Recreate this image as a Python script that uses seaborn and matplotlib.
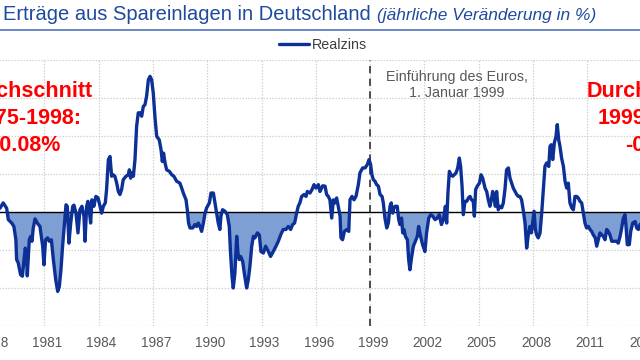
import numpy as np
import pandas as pd
import matplotlib
matplotlib.use("Agg")
import matplotlib.pyplot as plt
import matplotlib.transforms as mtransforms
import seaborn as sns
from matplotlib.lines import Line2D

# ---------------------------------------------
# Daten: Realzins auf Spareinlagen
# ---------------------------------------------
jahre = [
    1978.55, 1978.73, 1978.92, 1979.01, 1979.20, 1979.32, 1979.43, 1979.47, 1979.56, 1979.69,
    1979.79, 1979.88, 1979.95, 1980.02, 1980.06, 1980.17, 1980.25, 1980.32, 1980.39, 1980.49,
    1980.61, 1980.76, 1980.91, 1980.98, 1981.07, 1981.18, 1981.28, 1981.39, 1981.50, 1981.63,
    1981.74, 1981.83, 1981.92, 1982.01, 1982.11, 1982.20, 1982.27, 1982.36, 1982.46, 1982.57,
    1982.64, 1982.75, 1982.86, 1982.97, 1983.08, 1983.19, 1983.25, 1983.34, 1983.41, 1983.49,
    1983.56, 1983.63, 1983.74, 1983.85, 1983.97, 1984.08, 1984.17, 1984.26, 1984.37, 1984.44,
    1984.54, 1984.63, 1984.72, 1984.81, 1984.90, 1985.00, 1985.09, 1985.18, 1985.27, 1985.36,
    1985.51, 1985.64, 1985.70, 1985.77, 1985.84, 1985.92, 1986.01, 1986.10, 1986.19, 1986.29,
    1986.38, 1986.47, 1986.56, 1986.65, 1986.75, 1986.84, 1986.93, 1987.02, 1987.11, 1987.21,
    1987.35, 1987.45, 1987.52, 1987.59, 1987.67, 1987.76, 1987.91, 1988.04, 1988.16, 1988.31,
    1988.49, 1988.59, 1988.68, 1988.83, 1988.90, 1988.97, 1989.05, 1989.20, 1989.32, 1989.42,
    1989.51, 1989.60, 1989.69, 1989.79, 1989.88, 1989.97, 1990.12, 1990.21, 1990.34, 1990.43,
    1990.52, 1990.61, 1990.70, 1990.76, 1990.85, 1990.98, 1991.11, 1991.22, 1991.29, 1991.37,
    1991.44, 1991.53, 1991.63, 1991.70, 1991.77, 1991.85, 1991.96, 1992.05, 1992.18, 1992.27,
    1992.36, 1992.46, 1992.55, 1992.64, 1992.77, 1992.88, 1992.97, 1993.10, 1993.23, 1993.38,
    1993.50, 1993.65, 1993.80, 1993.93, 1994.06, 1994.20, 1994.35, 1994.48, 1994.61, 1994.72,
    1994.83, 1994.94, 1995.03, 1995.12, 1995.22, 1995.35, 1995.46, 1995.53, 1995.68, 1995.79,
    1995.90, 1996.01, 1996.14, 1996.23, 1996.38, 1996.51, 1996.60, 1996.69, 1996.78, 1996.88,
    1996.97, 1997.06, 1997.15, 1997.24, 1997.34, 1997.39, 1997.48, 1997.58, 1997.71, 1997.82,
    1997.89, 1998.00, 1998.11, 1998.22, 1998.35, 1998.44, 1998.59, 1998.72, 1998.85, 1998.94,
    1999.03, 1999.10, 1999.18, 1999.27, 1999.36, 1999.46, 1999.55, 1999.66, 1999.73, 1999.82,
    1999.92, 2000.01, 2000.10, 2000.17, 2000.25, 2000.32, 2000.39, 2000.50, 2000.58, 2000.65,
    2000.74, 2000.80, 2000.87, 2000.95, 2001.06, 2001.13, 2001.20, 2001.30, 2001.39, 2001.50,
    2001.61, 2001.68, 2001.79, 2001.90, 2002.03, 2002.12, 2002.24, 2002.35, 2002.46, 2002.59,
    2002.71, 2002.82, 2002.94, 2003.05, 2003.16, 2003.23, 2003.30, 2003.38, 2003.47, 2003.56,
    2003.65, 2003.75, 2003.84, 2003.93, 2004.00, 2004.08, 2004.15, 2004.24, 2004.34, 2004.43,
    2004.52, 2004.61, 2004.70, 2004.76, 2004.83, 2004.92, 2005.04, 2005.13, 2005.22, 2005.35,
    2005.44, 2005.53, 2005.62, 2005.70, 2005.77, 2005.84, 2005.92, 2005.99, 2006.08, 2006.18,
    2006.27, 2006.36, 2006.45, 2006.54, 2006.64, 2006.73, 2006.82, 2006.91, 2007.01, 2007.10,
    2007.19, 2007.28, 2007.37, 2007.47, 2007.56, 2007.65, 2007.74, 2007.83, 2007.91, 2007.98,
    2008.06, 2008.13, 2008.20, 2008.29, 2008.39, 2008.48, 2008.57, 2008.66, 2008.75, 2008.87,
    2008.94, 2009.01, 2009.09, 2009.18, 2009.27, 2009.34, 2009.42, 2009.49, 2009.58, 2009.68,
    2009.77, 2009.86, 2009.95, 2010.04, 2010.14, 2010.23, 2010.32, 2010.41, 2010.50, 2010.60,
    2010.69, 2010.78, 2010.87, 2010.96, 2011.06, 2011.15, 2011.24, 2011.33, 2011.44, 2011.52,
    2011.61, 2011.70, 2011.79, 2011.89, 2011.98, 2012.07, 2012.16, 2012.25, 2012.35, 2012.44,
    2012.62, 2012.71, 2012.81, 2012.90, 2012.99, 2013.08, 2013.14, 2013.21, 2013.32, 2013.40,
    2013.51, 2013.64, 2013.73, 2013.82, 2013.91, 2014.00,
]

realzins = [
    0.10, 0.24, 0.10, -0.20, -0.29, -0.38, -0.73, -1.25, -1.34, -1.65,
    -1.69, -1.25, -0.95, -1.25, -1.68, -0.73, -0.64, -0.77, -0.42, -0.18,
    -0.29, -0.38, -0.90, -1.39, -0.73, -0.68, -0.77, -0.73, -1.25, -1.78,
    -2.09, -1.96, -1.52, -0.90, -0.33, 0.19, 0.15, -0.82, -0.29, 0.15,
    0.18, -0.03, -0.55, 0.06, 0.15, -0.11, -0.77, 0.15, 0.28, 0.02,
    -0.29, 0.32, 0.15, 0.41, 0.37, 0.15, -0.03, 0.15, 0.24, 0.59,
    1.38, 1.46, 0.94, 0.98, 0.94, 0.76, 0.54, 0.46, 0.59, 0.85,
    0.94, 0.98, 1.11, 0.89, 1.03, 0.94, 1.38, 2.25, 2.61, 2.61,
    2.52, 2.78, 2.82, 3.04, 3.48, 3.57, 3.48, 3.13, 2.52, 1.99,
    1.90, 1.64, 1.33, 1.55, 1.29, 1.11, 1.07, 0.98, 0.94, 0.81,
    0.76, 0.63, 0.50, 0.32, 0.06, -0.29, -0.42, -0.42, -0.33, -0.38,
    -0.29, -0.38, -0.51, -0.29, -0.03, 0.11, 0.24, 0.50, 0.50, 0.24,
    -0.03, -0.29, -0.46, -0.11, 0.06, 0.02, -0.07, -0.38, -1.08, -1.69,
    -2.00, -1.61, -0.64, -1.08, -1.25, -1.17, -1.30, -1.61, -2.00, -1.78,
    -1.43, -0.90, -0.64, -0.68, -0.55, -0.60, -1.04, -1.08, -0.90, -1.04,
    -1.17, -1.04, -0.90, -0.77, -0.60, -0.46, -0.46, -0.38, -0.46, -0.33,
    -0.29, -0.03, 0.15, 0.24, 0.41, 0.46, 0.41, 0.54, 0.50, 0.59,
    0.72, 0.63, 0.72, 0.54, 0.69, 0.68, 0.46, 0.41, 0.32, -0.16,
    0.32, 0.24, 0.37, 0.15, -0.11, -0.68, -0.73, -0.51, -0.46, -0.51,
    0.32, 0.41, 0.32, 0.41, 0.72, 1.03, 1.16, 1.16, 1.25, 1.38,
    1.25, 0.98, 0.85, 0.81, 0.72, 0.68, 0.46, 0.41, 0.24, -0.16,
    -0.42, -0.29, 0.15, 0.24, -0.03, 0.11, 0.15, 0.15, -0.20, -0.33,
    -0.16, -0.55, -0.46, -0.64, -0.73, -1.25, -1.52, -1.17, -0.90, -0.77,
    -0.64, -0.38, -0.64, -0.86, -1.04, -0.55, -0.16, -0.07, -0.11, -0.20,
    -0.16, -0.07, -0.33, -0.20, 0.15, -0.29, 0.50, 1.07, 0.98, 0.94,
    0.98, 1.03, 1.16, 1.42, 1.20, 0.68, -0.07, 0.28, 0.28, 0.37,
    0.41, 0.32, 0.28, -0.11, 0.59, 0.68, 0.76, 0.98, 0.89, 0.63,
    0.54, 0.32, 0.15, 0.32, 0.54, 0.41, 0.15, 0.54, 0.06, 0.15,
    0.11, 0.24, 0.59, 1.11, 1.16, 0.89, 0.76, 0.63, 0.54, 0.46,
    0.41, 0.41, 0.32, 0.02, -0.29, -0.95, -0.60, -0.38, -0.55, -0.29,
    0.02, -0.46, -0.60, -0.68, -0.55, -0.03, 0.59, 1.20, 1.29, 1.20,
    1.73, 1.77, 1.38, 1.82, 1.99, 2.30, 1.90, 1.73, 1.42, 1.20,
    0.81, 0.63, 0.76, 0.24, 0.11, 0.06, 0.41, 0.41, 0.37, 0.28,
    0.24, -0.03, -0.29, -0.42, -0.38, -0.46, -0.51, -0.60, -0.68, -0.90,
    -0.73, -0.55, -0.60, -0.64, -0.73, -0.46, -0.51, -0.60, -0.77, -0.77,
    -0.77, -0.82, -0.64, -0.42, -0.16, -0.07, -0.38, -0.86, -0.86, -0.51,
    -0.29, -0.25, -0.42, -0.46, -0.33, -0.30,
]

jahr_ticks = list(range(1978, 2015, 3))
y_gitter = list(range(-3, 5))

df = pd.DataFrame({"Jahr": jahre, "Realzins": realzins})

LINIE = "#0d3097"
FLAECHE = "#7e9fd4"
TITEL = "#1f4a9e"
GRAU = "#595959"
ROT = "#ff0000"

sns.set_style("white")
plt.rcParams["font.family"] = ["Liberation Sans", "DejaVu Sans"]

fig = plt.figure(figsize=(6.4, 3.6), dpi=100)
W, H = 640, 360

# Plotbereich: ragt links/rechts über das Bild hinaus (Ausschnitt)
px_l, px_r, px_t, px_b = -40, 680, 60, 326
ax = fig.add_axes([px_l / W, 1 - px_b / H, (px_r - px_l) / W, (px_b - px_t) / H])

px_per_year = 18.1
x0 = 1981 + (px_l - 44.3) / px_per_year
x1 = 1981 + (px_r - 44.3) / px_per_year
ax.set_xlim(x0, x1)
ax.set_ylim(-3, 4)

# negative Bereiche füllen
x = df["Jahr"].to_numpy()
y = df["Realzins"].to_numpy()
ax.fill_between(x, y, 0, where=y < 0, interpolate=True, color=FLAECHE, lw=0, zorder=1)

ax.axhline(0, color="black", lw=1.0, zorder=2)
ax.axvline(1999, color="#404040", lw=1.3, ls=(0, (4, 3)), zorder=2)

sns.lineplot(data=df, x="Jahr", y="Realzins", ax=ax, color=LINIE, lw=2.4,
             label="Realzins", zorder=3)

ax.set_xticks(jahr_ticks)
ax.set_xticklabels([str(j) for j in jahr_ticks], fontsize=9.8, color=GRAU)
ax.set_yticks(y_gitter)
ax.tick_params(axis="y", labelleft=False, length=0)
ax.tick_params(axis="x", length=0, pad=7.5)
# Beschriftungen leicht rechts der Gitterlinien wie im Original
shift = mtransforms.ScaledTranslation(3 / 100, 0, fig.dpi_scale_trans)
for lab in ax.get_xticklabels():
    lab.set_transform(lab.get_transform() + shift)
ax.grid(True, color="#d2d2d2", ls=(0, (1.2, 1.2)), lw=0.9, zorder=0)
ax.set_axisbelow(True)
ax.set_xlabel("")
ax.set_ylabel("")
for s in ax.spines.values():
    s.set_visible(False)

# Legende oben in der Mitte
handles, labels = ax.get_legend_handles_labels()
ax.get_legend().remove()
fig.legend(handles, labels, loc="center", bbox_to_anchor=(323 / W, 1 - 45 / H),
           frameon=False, fontsize=10.3, handlelength=2.1, handletextpad=0.2,
           labelcolor="#404040")

# Titel + Trennlinie
fig.text(3 / W, 1 - 20 / H, "Erträge aus Spareinlagen in Deutschland",
         fontsize=14.5, color=TITEL, ha="left", va="baseline")
fig.text(377 / W, 1 - 20 / H, "(jährliche Veränderung in %)",
         fontsize=12.5, color=TITEL, style="italic", ha="left", va="baseline")
fig.add_artist(Line2D([0, 1], [1 - 30 / H, 1 - 30 / H], color="#4f74bb", lw=1.2))

# Anmerkung Euro-Einführung
fig.text(457 / W, 1 - 80.5 / H, "Einführung des Euros,", fontsize=10.3,
         color=GRAU, ha="center", va="baseline")
fig.text(457 / W, 1 - 97 / H, "1. Januar 1999", fontsize=10.3,
         color=GRAU, ha="center", va="baseline")

# Durchschnittswerte (rot), im Original am Bildrand abgeschnitten
links = ["Durchschnitt", "1975-1998:", "-0.08%"]
rechts = ["Durchschnitt", "1999-2013:", "-0.5%"]
for txt, yb in zip(links, [97, 124, 151]):
    fig.text(26.5 / W, 1 - yb / H, txt, fontsize=15.5, color=ROT, weight="bold",
             ha="center", va="baseline")
for txt, yb in zip(rechts, [97, 124, 151]):
    fig.text(653 / W, 1 - yb / H, txt, fontsize=15.5, color=ROT, weight="bold",
             ha="center", va="baseline")

fig.savefig("out.png", dpi=100)
